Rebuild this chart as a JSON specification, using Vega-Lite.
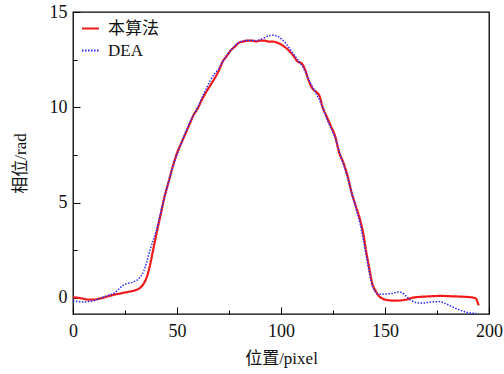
{
  "$schema": "https://vega.github.io/schema/vega-lite/v6.json",
  "width": 416,
  "height": 302,
  "autosize": {"type": "none"},
  "padding": {"left": 73, "top": 12, "right": 15, "bottom": 60},
  "background": "white",
  "config": {
    "font": "Liberation Serif, Noto Sans CJK SC",
    "view": {"stroke": "black", "strokeWidth": 1.3},
    "axis": {
      "labelFont": "Liberation Serif, Noto Sans CJK SC",
      "titleFont": "Liberation Serif, Noto Sans CJK SC",
      "labelFontSize": 18,
      "titleFontSize": 17,
      "titleFontWeight": "normal",
      "labelColor": "#111",
      "titleColor": "#111",
      "domain": false,
      "grid": false,
      "tickColor": "black",
      "tickWidth": 1
    },
    "legend": {
      "labelFont": "Liberation Serif, Noto Sans CJK SC",
      "labelFontSize": 17,
      "labelColor": "#111"
    }
  },
  "datasets": {
    "d": [
      {"x": 0, "y": 0.02, "s": "本算法"},
      {"x": 2.5, "y": 0.0, "s": "本算法"},
      {"x": 5, "y": -0.05, "s": "本算法"},
      {"x": 7.5, "y": -0.1, "s": "本算法"},
      {"x": 10, "y": -0.1, "s": "本算法"},
      {"x": 12.5, "y": -0.05, "s": "本算法"},
      {"x": 15, "y": 0.02, "s": "本算法"},
      {"x": 17.5, "y": 0.1, "s": "本算法"},
      {"x": 20, "y": 0.17, "s": "本算法"},
      {"x": 22.5, "y": 0.22, "s": "本算法"},
      {"x": 25, "y": 0.28, "s": "本算法"},
      {"x": 27.5, "y": 0.33, "s": "本算法"},
      {"x": 30, "y": 0.4, "s": "本算法"},
      {"x": 32, "y": 0.5, "s": "本算法"},
      {"x": 34, "y": 0.75, "s": "本算法"},
      {"x": 35.5, "y": 1.1, "s": "本算法"},
      {"x": 37, "y": 1.7, "s": "本算法"},
      {"x": 38.5, "y": 2.5, "s": "本算法"},
      {"x": 40, "y": 3.3, "s": "本算法"},
      {"x": 42, "y": 4.3, "s": "本算法"},
      {"x": 44, "y": 5.3, "s": "本算法"},
      {"x": 46, "y": 6.1, "s": "本算法"},
      {"x": 48, "y": 6.9, "s": "本算法"},
      {"x": 50, "y": 7.6, "s": "本算法"},
      {"x": 52, "y": 8.1, "s": "本算法"},
      {"x": 54, "y": 8.6, "s": "本算法"},
      {"x": 56, "y": 9.1, "s": "本算法"},
      {"x": 58, "y": 9.6, "s": "本算法"},
      {"x": 60, "y": 9.95, "s": "本算法"},
      {"x": 62, "y": 10.4, "s": "本算法"},
      {"x": 64, "y": 10.8, "s": "本算法"},
      {"x": 66, "y": 11.15, "s": "本算法"},
      {"x": 68, "y": 11.5, "s": "本算法"},
      {"x": 70, "y": 11.9, "s": "本算法"},
      {"x": 72, "y": 12.4, "s": "本算法"},
      {"x": 74, "y": 12.7, "s": "本算法"},
      {"x": 76, "y": 13.0, "s": "本算法"},
      {"x": 78, "y": 13.2, "s": "本算法"},
      {"x": 80, "y": 13.4, "s": "本算法"},
      {"x": 82, "y": 13.45, "s": "本算法"},
      {"x": 84, "y": 13.5, "s": "本算法"},
      {"x": 86, "y": 13.5, "s": "本算法"},
      {"x": 88, "y": 13.45, "s": "本算法"},
      {"x": 90, "y": 13.5, "s": "本算法"},
      {"x": 92, "y": 13.5, "s": "本算法"},
      {"x": 94, "y": 13.45, "s": "本算法"},
      {"x": 96, "y": 13.45, "s": "本算法"},
      {"x": 98, "y": 13.4, "s": "本算法"},
      {"x": 100, "y": 13.3, "s": "本算法"},
      {"x": 102, "y": 13.15, "s": "本算法"},
      {"x": 104, "y": 12.95, "s": "本算法"},
      {"x": 106, "y": 12.7, "s": "本算法"},
      {"x": 108, "y": 12.4, "s": "本算法"},
      {"x": 110, "y": 12.3, "s": "本算法"},
      {"x": 111.5, "y": 12.0, "s": "本算法"},
      {"x": 113, "y": 11.5, "s": "本算法"},
      {"x": 115, "y": 11.0, "s": "本算法"},
      {"x": 117, "y": 10.8, "s": "本算法"},
      {"x": 118.5, "y": 10.6, "s": "本算法"},
      {"x": 120, "y": 10.0, "s": "本算法"},
      {"x": 122, "y": 9.5, "s": "本算法"},
      {"x": 124, "y": 9.0, "s": "本算法"},
      {"x": 126, "y": 8.5, "s": "本算法"},
      {"x": 128, "y": 7.6, "s": "本算法"},
      {"x": 130, "y": 7.1, "s": "本算法"},
      {"x": 132, "y": 6.4, "s": "本算法"},
      {"x": 134, "y": 5.5, "s": "本算法"},
      {"x": 136, "y": 4.8, "s": "本算法"},
      {"x": 138, "y": 4.1, "s": "本算法"},
      {"x": 139.5, "y": 3.4, "s": "本算法"},
      {"x": 141, "y": 2.4, "s": "本算法"},
      {"x": 142.5, "y": 1.5, "s": "本算法"},
      {"x": 144, "y": 0.7, "s": "本算法"},
      {"x": 145.5, "y": 0.35, "s": "本算法"},
      {"x": 147, "y": 0.1, "s": "本算法"},
      {"x": 149, "y": -0.05, "s": "本算法"},
      {"x": 151, "y": -0.12, "s": "本算法"},
      {"x": 155, "y": -0.15, "s": "本算法"},
      {"x": 160, "y": -0.1, "s": "本算法"},
      {"x": 163, "y": 0.0, "s": "本算法"},
      {"x": 167, "y": 0.05, "s": "本算法"},
      {"x": 172, "y": 0.08, "s": "本算法"},
      {"x": 177, "y": 0.1, "s": "本算法"},
      {"x": 182, "y": 0.08, "s": "本算法"},
      {"x": 187, "y": 0.06, "s": "本算法"},
      {"x": 191, "y": 0.03, "s": "本算法"},
      {"x": 193.5, "y": -0.02, "s": "本算法"},
      {"x": 195, "y": -0.4, "s": "本算法"},
      {"x": 0, "y": -0.15, "s": "DEA"},
      {"x": 2.5, "y": -0.2, "s": "DEA"},
      {"x": 5, "y": -0.22, "s": "DEA"},
      {"x": 7.5, "y": -0.2, "s": "DEA"},
      {"x": 10, "y": -0.15, "s": "DEA"},
      {"x": 12.5, "y": -0.05, "s": "DEA"},
      {"x": 15, "y": 0.05, "s": "DEA"},
      {"x": 17.5, "y": 0.15, "s": "DEA"},
      {"x": 20, "y": 0.25, "s": "DEA"},
      {"x": 22, "y": 0.45, "s": "DEA"},
      {"x": 24, "y": 0.65, "s": "DEA"},
      {"x": 26, "y": 0.75, "s": "DEA"},
      {"x": 28, "y": 0.8, "s": "DEA"},
      {"x": 30, "y": 0.88, "s": "DEA"},
      {"x": 32, "y": 1.05, "s": "DEA"},
      {"x": 34, "y": 1.4, "s": "DEA"},
      {"x": 35.5, "y": 1.9, "s": "DEA"},
      {"x": 37, "y": 2.5, "s": "DEA"},
      {"x": 38.5, "y": 3.0, "s": "DEA"},
      {"x": 40, "y": 3.5, "s": "DEA"},
      {"x": 42, "y": 4.4, "s": "DEA"},
      {"x": 44, "y": 5.3, "s": "DEA"},
      {"x": 46, "y": 6.1, "s": "DEA"},
      {"x": 48, "y": 6.9, "s": "DEA"},
      {"x": 50, "y": 7.5, "s": "DEA"},
      {"x": 52, "y": 8.1, "s": "DEA"},
      {"x": 54, "y": 8.65, "s": "DEA"},
      {"x": 56, "y": 9.15, "s": "DEA"},
      {"x": 58, "y": 9.6, "s": "DEA"},
      {"x": 60, "y": 10.0, "s": "DEA"},
      {"x": 62, "y": 10.5, "s": "DEA"},
      {"x": 64, "y": 10.95, "s": "DEA"},
      {"x": 66, "y": 11.4, "s": "DEA"},
      {"x": 68, "y": 11.75, "s": "DEA"},
      {"x": 70, "y": 12.0, "s": "DEA"},
      {"x": 72, "y": 12.4, "s": "DEA"},
      {"x": 74, "y": 12.75, "s": "DEA"},
      {"x": 76, "y": 13.0, "s": "DEA"},
      {"x": 78, "y": 13.25, "s": "DEA"},
      {"x": 80, "y": 13.4, "s": "DEA"},
      {"x": 82, "y": 13.5, "s": "DEA"},
      {"x": 84, "y": 13.5, "s": "DEA"},
      {"x": 86, "y": 13.5, "s": "DEA"},
      {"x": 88, "y": 13.5, "s": "DEA"},
      {"x": 90, "y": 13.55, "s": "DEA"},
      {"x": 92, "y": 13.65, "s": "DEA"},
      {"x": 94, "y": 13.75, "s": "DEA"},
      {"x": 96, "y": 13.78, "s": "DEA"},
      {"x": 98, "y": 13.75, "s": "DEA"},
      {"x": 100, "y": 13.6, "s": "DEA"},
      {"x": 102, "y": 13.4, "s": "DEA"},
      {"x": 104, "y": 13.1, "s": "DEA"},
      {"x": 106, "y": 12.8, "s": "DEA"},
      {"x": 108, "y": 12.5, "s": "DEA"},
      {"x": 110, "y": 12.2, "s": "DEA"},
      {"x": 112, "y": 11.8, "s": "DEA"},
      {"x": 114, "y": 11.3, "s": "DEA"},
      {"x": 116, "y": 10.9, "s": "DEA"},
      {"x": 118, "y": 10.5, "s": "DEA"},
      {"x": 120, "y": 10.0, "s": "DEA"},
      {"x": 122, "y": 9.4, "s": "DEA"},
      {"x": 124, "y": 8.9, "s": "DEA"},
      {"x": 126, "y": 8.4, "s": "DEA"},
      {"x": 128, "y": 7.7, "s": "DEA"},
      {"x": 130, "y": 7.0, "s": "DEA"},
      {"x": 132, "y": 6.3, "s": "DEA"},
      {"x": 134, "y": 5.5, "s": "DEA"},
      {"x": 136, "y": 4.7, "s": "DEA"},
      {"x": 138, "y": 3.9, "s": "DEA"},
      {"x": 139.5, "y": 3.1, "s": "DEA"},
      {"x": 141, "y": 2.2, "s": "DEA"},
      {"x": 142.5, "y": 1.3, "s": "DEA"},
      {"x": 144, "y": 0.6, "s": "DEA"},
      {"x": 145.5, "y": 0.3, "s": "DEA"},
      {"x": 147, "y": 0.18, "s": "DEA"},
      {"x": 150, "y": 0.2, "s": "DEA"},
      {"x": 153, "y": 0.22, "s": "DEA"},
      {"x": 156, "y": 0.3, "s": "DEA"},
      {"x": 158, "y": 0.28, "s": "DEA"},
      {"x": 160, "y": 0.1, "s": "DEA"},
      {"x": 162, "y": -0.1, "s": "DEA"},
      {"x": 165, "y": -0.25, "s": "DEA"},
      {"x": 168, "y": -0.28, "s": "DEA"},
      {"x": 172, "y": -0.22, "s": "DEA"},
      {"x": 176, "y": -0.2, "s": "DEA"},
      {"x": 179, "y": -0.3, "s": "DEA"},
      {"x": 182, "y": -0.45, "s": "DEA"},
      {"x": 185, "y": -0.6, "s": "DEA"},
      {"x": 188, "y": -0.72, "s": "DEA"},
      {"x": 191, "y": -0.8, "s": "DEA"},
      {"x": 194, "y": -0.82, "s": "DEA"}
    ]
  },
  "data": {"name": "d"},
  "encoding": {
    "x": {
      "field": "x",
      "type": "quantitative",
      "scale": {"domain": [0, 200], "nice": false, "zero": false},
      "axis": {
        "title": "位置/pixel",
        "values": [0, 25, 50, 75, 100, 125, 150, 175, 200],
        "labelExpr": "datum.value % 50 == 0 ? datum.label : ''",
        "tickSize": {"condition": {"test": "datum.value % 50 != 0", "value": -4}, "value": -7},
        "labelPadding": 15,
        "titlePadding": 10,
        "labelFlush": false
      }
    },
    "y": {
      "field": "y",
      "type": "quantitative",
      "scale": {"domain": [-0.85, 15], "nice": false, "zero": false},
      "axis": {
        "title": "相位/rad",
        "values": [0, 2.5, 5, 7.5, 10, 12.5, 15],
        "labelExpr": "datum.value % 5 == 0 ? datum.label : ''",
        "tickSize": {"condition": {"test": "datum.value % 5 != 0", "value": -4}, "value": -7},
        "labelPadding": 13,
        "titlePadding": 20,
        "labelFlush": false
      }
    },
    "color": {
      "field": "s",
      "type": "nominal",
      "scale": {"domain": ["本算法", "DEA"], "range": ["#f01a1a", "#2a2aff"]},
      "legend": {
        "title": null,
        "orient": "none",
        "legendX": 8,
        "legendY": 7,
        "symbolType": "stroke",
        "symbolSize": 289,
        "symbolStrokeWidth": 2,
        "labelOffset": 8,
        "rowPadding": 4
      }
    },
    "strokeDash": {
      "field": "s",
      "type": "nominal",
      "scale": {"domain": ["本算法", "DEA"], "range": [[1, 0], [1.5, 1.5]]},
      "legend": {
        "title": null,
        "orient": "none",
        "legendX": 8,
        "legendY": 7,
        "symbolType": "stroke",
        "symbolSize": 289,
        "symbolStrokeWidth": 2,
        "labelOffset": 8,
        "rowPadding": 4
      }
    }
  },
  "layer": [
    {
      "transform": [{"filter": "datum.s == '本算法'"}],
      "mark": {"type": "line", "strokeWidth": 2.2, "interpolate": "monotone"}
    },
    {
      "transform": [{"filter": "datum.s == 'DEA'"}],
      "mark": {"type": "line", "strokeWidth": 1.5, "interpolate": "monotone"}
    }
  ]
}
